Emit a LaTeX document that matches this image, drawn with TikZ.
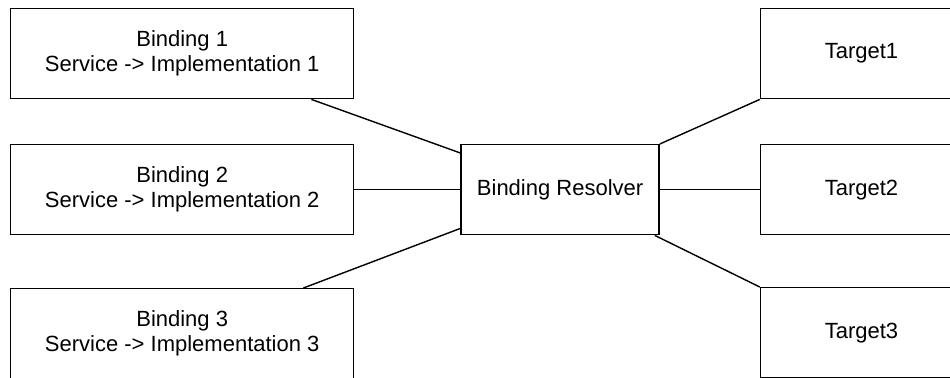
\documentclass[tikz,border=0pt]{standalone}
\usepackage{fontspec}
\setmainfont{Liberation Sans}
\usepackage{tikz}
\usetikzlibrary{positioning}

\begin{document}
\begin{tikzpicture}[
  box/.style={draw, line width=0.7pt, minimum height=45pt, align=center,
              font=\fontsize{11}{12.5}\selectfont, inner sep=0pt},
  bindbox/.style={box, minimum width=171.5pt},
  targetbox/.style={box, minimum width=101pt},
  link/.style={line width=0.7pt}
]
  \useasboundingbox (0,0) rectangle (475pt,-188.5pt);
  \clip (0,0) rectangle (475pt,-188.5pt);

  \node[bindbox, anchor=north west] (bind1) at (5pt,-4pt) {Binding 1\\Service -> Implementation 1};
  \node[bindbox, below=22.3pt of bind1] (bind2) {Binding 2\\Service -> Implementation 2};
  \node[bindbox, below=26.3pt of bind2] (bind3) {Binding 3\\Service -> Implementation 3};
  \node[box, minimum width=99pt, right=53pt of bind2] (resolver) {Binding Resolver};
  \node[targetbox, right=50pt of resolver] (target2) {Target2};
  \node[targetbox, above=22.3pt of target2] (target1) {Target1};
  \node[targetbox, below=25.8pt of target2] (target3) {Target3};

  \draw[link] ([xshift=-21.5pt]bind1.south east) -- ([yshift=-4.5pt]resolver.north west);
  \draw[link] (bind2) -- (resolver);
  \draw[link] ([xshift=-25.5pt]bind3.north east) -- ([yshift=3.5pt]resolver.south west);
  \draw[link] (resolver.north east) -- (target1.south west);
  \draw[link] (resolver) -- (target2);
  \draw[link] ([xshift=-2.5pt]resolver.south east) -- (target3.north west);
\end{tikzpicture}
\end{document}
